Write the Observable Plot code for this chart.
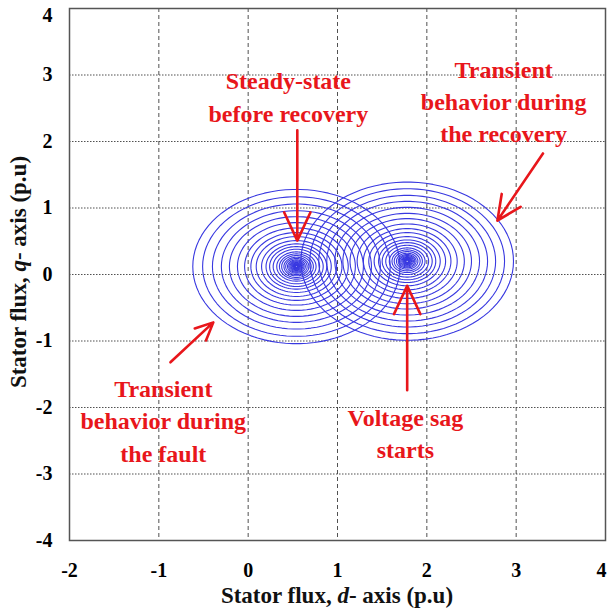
<!DOCTYPE html>
<html><head><meta charset="utf-8">
<script src="https://cdn.jsdelivr.net/npm/d3@7"></script>
<script src="https://cdn.jsdelivr.net/npm/@observablehq/plot@0.6"></script>
<style>body{margin:0;background:#fff;overflow:hidden} svg{overflow:visible}</style>
</head><body><div id="chart"></div>
<script>
// Axis ticks
const xTicks = [-2, -1, 0, 1, 2, 3, 4];
const yTicks = [-4, -3, -2, -1, 0, 1, 2, 3, 4];

// Flux loci: centre and ring radii (p.u.)
const faultCenter = [0.54, 0.12];
const faultRadii = [1.16, 1.05, 0.94, 0.84, 0.75, 0.66, 0.58, 0.51, 0.45, 0.39, 0.34, 0.30, 0.26, 0.22, 0.19, 0.165, 0.14, 0.12, 0.10, 0.085, 0.072, 0.06, 0.05, 0.042, 0.035, 0.028, 0.022, 0.017, 0.012];
const recoveryCenter = [1.78, 0.2];
const recoveryRadii = [1.19, 1.09, 0.99, 0.90, 0.81, 0.72, 0.64, 0.56, 0.49, 0.43, 0.37, 0.32, 0.28, 0.24, 0.20, 0.17, 0.145, 0.12, 0.10, 0.085, 0.07, 0.058, 0.048, 0.04, 0.032, 0.025, 0.02, 0.015];

// Annotations
const labelText = ["Steady-state\nbefore recovery", "Transient\nbehavior during\nthe recovery", "Transient\nbehavior during\nthe fault", "Voltage sag\nstarts"];
const labelX = [0.45, 2.86, -0.95, 1.76];
const labelY = [2.70, 2.63, -2.17, -2.36];
const arrowX1 = [0.55, 3.30, -0.87, 1.78];
const arrowY1 = [2.17, 1.82, -1.32, -1.74];
const arrowX2 = [0.55, 2.79, -0.39, 1.78];
const arrowY2 = [0.51, 0.81, -0.72, -0.17];

// Build ring polylines from centre + radius
const angles = d3.range(0, 361, 4).map(a => a * Math.PI / 180);
const rings = [];
function addRings(center, radii, tag) {
  radii.forEach((r, i) => {
    angles.forEach(t => rings.push({id: tag + i, x: center[0] + r * Math.cos(t), y: center[1] + r * Math.sin(t)}));
  });
}
addRings(faultCenter, faultRadii, "f");
addRings(recoveryCenter, recoveryRadii, "r");

const labels = labelText.map((t, i) => ({t, x: labelX[i], y: labelY[i]}));
const arrows = arrowX1.map((_, i) => ({x1: arrowX1[i], y1: arrowY1[i], x2: arrowX2[i], y2: arrowY2[i]}));

const serif = "'Liberation Serif', 'Times New Roman', serif";
const red = "#e8161b";
const tickStyle = {fontSize: 20, fontWeight: "bold", label: null, tickSize: 0, tickFormat: d => String(d)};

const chart = Plot.plot({
  width: 608,
  height: 609,
  marginLeft: 69,
  marginRight: 3,
  marginTop: 8,
  marginBottom: 69,
  style: {fontFamily: serif, background: "#fff", overflow: "visible"},
  x: {domain: [-2, 4], label: null},
  y: {domain: [-4, 4], label: null},
  marks: [
    Plot.gridX(xTicks.slice(1, -1), {stroke: "#333", strokeOpacity: 0.85, strokeDasharray: "4,3", strokeWidth: 1}),
    Plot.gridY(yTicks.slice(1, -1), {stroke: "#333", strokeOpacity: 0.85, strokeDasharray: "1.5,1.5", strokeWidth: 1.2}),
    Plot.line(rings, {x: "x", y: "y", z: "id", stroke: "#3838e0", strokeWidth: 1.1, curve: "linear"}),
    Plot.arrow(arrows, {x1: "x1", y1: "y1", x2: "x2", y2: "y2", stroke: red, strokeWidth: 2.6, headLength: 18, headAngle: 50}),
    Plot.text(labels, {x: "x", y: "y", text: "t", fill: red, fontSize: 24, fontWeight: "bold", lineHeight: 1.35, fontFamily: serif}),
    Plot.frame({stroke: "#555", strokeWidth: 1.5}),
    Plot.axisX(xTicks.slice(0, -1), {...tickStyle, tickPadding: 22}),
    Plot.axisX(xTicks.slice(-1), {...tickStyle, tickPadding: 22, dx: -4}),
    Plot.axisY(yTicks.slice(0, -1), {...tickStyle, tickPadding: 17}),
    Plot.axisY(yTicks.slice(-1), {...tickStyle, tickPadding: 17, dy: 7})
  ]
});
document.getElementById("chart").append(chart);

// Axis titles with italic d / q
const svg = d3.select(chart);
const xt = svg.append("text").attr("x", 337).attr("y", 603).attr("text-anchor", "middle")
  .attr("font-family", serif).attr("font-size", 23).attr("font-weight", "bold").attr("fill", "#111");
xt.append("tspan").text("Stator flux, ");
xt.append("tspan").attr("font-style", "italic").text("d");
xt.append("tspan").text("- axis (p.u)");
const yt = svg.append("text").attr("transform", "translate(26,272) rotate(-90)").attr("text-anchor", "middle")
  .attr("font-family", serif).attr("font-size", 23).attr("font-weight", "bold").attr("fill", "#111");
yt.append("tspan").text("Stator flux, ");
yt.append("tspan").attr("font-style", "italic").text("q");
yt.append("tspan").text("- axis (p.u)");
</script>
</body></html>
